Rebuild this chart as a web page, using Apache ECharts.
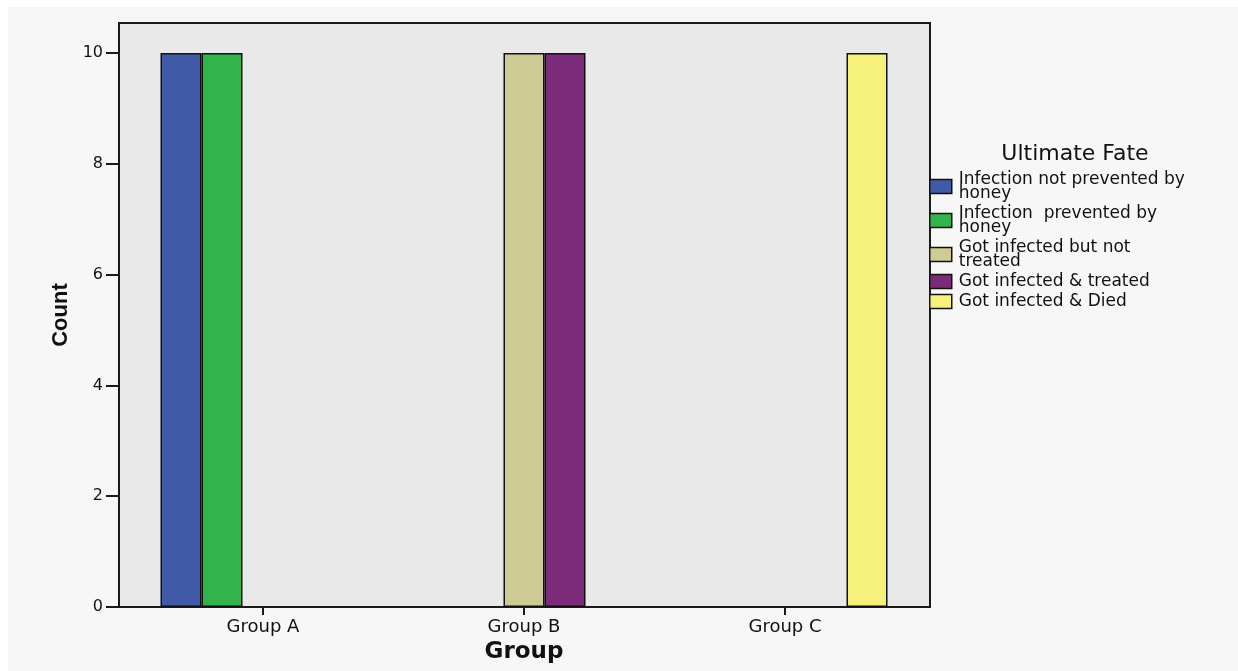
<!DOCTYPE html>
<html>
<head>
<meta charset="utf-8">
<script src="https://cdn.jsdelivr.net/npm/echarts@6/dist/echarts.min.js"></script>
<style>html,body{margin:0;padding:0;background:#ffffff;}#c{width:1238px;height:671px;}</style>
</head>
<body>
<div id="c"></div>
<script>
const categories = ['Group A', 'Group B', 'Group C'];
const seriesNames = ['Infection not prevented by honey', 'Infection  prevented by honey', 'Got infected but not treated', 'Got infected & treated', 'Got infected & Died'];
const legendLabels = ['Infection not prevented by\nhoney', 'Infection  prevented by\nhoney', 'Got infected but not\ntreated', 'Got infected & treated', 'Got infected & Died'];
const notPrevented = [10, null, null];
const prevented = [10, null, null];
const notTreated = [null, 10, null];
const treated = [null, 10, null];
const died = [null, null, 10];
const yTicks = [0, 2, 4, 6, 8, 10];
const colors = ['#415aa8', '#33b34b', '#cecb94', '#7b2b79', '#f5f17a'];

const seriesData = [notPrevented, prevented, notTreated, treated, died];
const font = 'DejaVu Sans, Verdana, sans-serif';
const chart = echarts.init(document.getElementById('c'));
chart.setOption({
  backgroundColor: '#ffffff',
  animation: false,
  graphic: [{
    type: 'rect', left: 8, top: 7, z: -10, silent: true,
    shape: {width: 1230, height: 664}, style: {fill: '#f7f7f7'}
  }],
  title: {
    text: 'Ultimate Fate', left: 1070, top: 138, textAlign: 'center',
    textStyle: {fontFamily: font, fontSize: 22, fontWeight: 'normal', color: '#111'}
  },
  legend: {
    orient: 'vertical', left: 929, top: 171, padding: 0,
    itemWidth: 22, itemHeight: 14, itemGap: 3,
    icon: 'rect',
    data: seriesNames,
    formatter: function (name) { return legendLabels[seriesNames.indexOf(name)]; },
    itemStyle: {borderColor: '#111', borderWidth: 1.5},
    textStyle: {fontFamily: font, fontSize: 17, lineHeight: 14, color: '#111', padding: [0, 0, 0, 2]}
  },
  grid: [
    {left: 132.5, right: 322.5, top: 23, bottom: 64},
    {left: 119, right: 308, top: 23, bottom: 64, show: true, backgroundColor: '#e9e9e9', borderColor: '#1a1a1a', borderWidth: 2}
  ],
  xAxis: [
    {
      type: 'category', gridIndex: 0, data: categories,
      name: 'Group', nameLocation: 'middle', nameGap: 33,
      nameTextStyle: {fontFamily: font, fontSize: 23, fontWeight: 'bold', color: '#111'},
      axisLine: {show: false},
      axisTick: {show: true, alignWithLabel: true, length: 8, lineStyle: {color: '#1a1a1a', width: 2}},
      axisLabel: {fontFamily: font, fontSize: 18, color: '#111', margin: 11}
    },
    {type: 'value', gridIndex: 1, show: false, min: 0, max: 1}
  ],
  yAxis: [
    {type: 'value', gridIndex: 0, show: false, min: 0, max: 10.54},
    {
      type: 'value', gridIndex: 1, min: 0, max: 10.54, interval: 2,
      name: 'Count', nameLocation: 'middle', nameGap: 47,
      nameTextStyle: {fontFamily: 'Liberation Sans Narrow, Arial Narrow, sans-serif', fontSize: 22, fontWeight: 'bold', color: '#111'},
      axisLine: {show: false},
      splitLine: {show: false},
      axisTick: {show: true, length: 13, customValues: yTicks, lineStyle: {color: '#1a1a1a', width: 2}},
      axisLabel: {fontFamily: font, fontSize: 16, color: '#111', margin: 16, customValues: yTicks}
    }
  ],
  series: seriesData.map((d, i) => ({
    name: seriesNames[i], type: 'bar', xAxisIndex: 0, yAxisIndex: 0,
    data: d, barWidth: 41, barGap: '0%',
    itemStyle: {color: colors[i], borderColor: '#111', borderWidth: 1.5}
  }))
});
</script>
</body>
</html>
